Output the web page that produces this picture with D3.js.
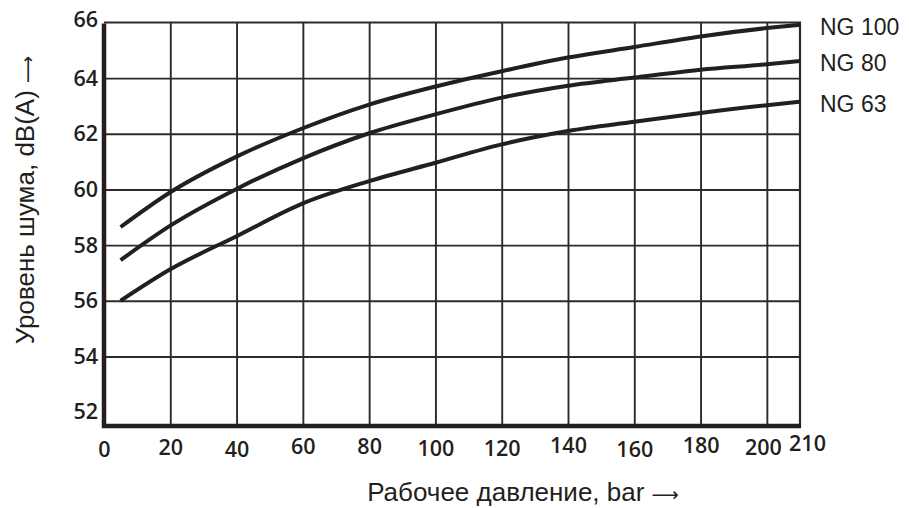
<!DOCTYPE html>
<html>
<head>
<meta charset="utf-8">
<script src="https://cdn.jsdelivr.net/npm/d3@7"></script>
<style>
	body { margin: 0; background: #fff; }
	.tick text { font-family: "Open Sans", sans-serif; font-weight: 600; font-size: 21.5px; fill: #231f20; }
	.label { font-family: "Liberation Sans", Arial, sans-serif; font-size: 26px; fill: #231f20; }
	.arrow { font-family: "DejaVu Sans", sans-serif; font-size: 19px; }
	.series-label { font-family: "Liberation Sans", Arial, sans-serif; font-size: 23px; fill: #231f20; }
</style>
</head>
<body>
<div id="vis"></div>
<script>

// Data: pressure in bar, noise level in dB(A)
var pressure = [5, 20, 40, 60, 80, 100, 120, 140, 160, 180, 200, 210];
var ng100 = [58.65, 59.9, 61.18, 62.2, 63.05, 63.7, 64.25, 64.74, 65.12, 65.5, 65.8, 65.92];
var ng80 = [57.46, 58.7, 60.02, 61.12, 62.02, 62.7, 63.3, 63.73, 64.02, 64.3, 64.5, 64.62];
var ng63 = [56.0, 57.13, 58.32, 59.5, 60.3, 60.96, 61.62, 62.1, 62.43, 62.75, 63.03, 63.15];
var seriesNames = ["NG 100", "NG 80", "NG 63"];

var xTicks = [0, 20, 40, 60, 80, 100, 120, 140, 160, 180, 200, 210];
var yTicks = [52, 54, 56, 58, 60, 62, 64, 66];

var xLabel = "Рабочее давление, bar ";
var yLabel = "Уровень шума, dB(A) ";
var arrow = "⟶";


function noiseChart(){
	// sizing, matched to the 909x508 picture
	var width = 909;
	var height = 508;
	var left = 104, right = 800, top = 22.5, bottom = 426;

	var x = d3.scaleLinear()
		.domain([0, 210])
		.range([left, right]);

	var y = d3.scaleLinear()
		.domain([51.5, 66])
		.range([bottom, top]);

	var svg = d3.select("#vis")
		.append("svg")
		.attr("width", width)
		.attr("height", height);

	//////////////////////////////  GRID  //////////////////////////////

	// vertical grid lines (every 20 bar)
	svg.append("g")
		.attr("transform", "translate(0," + bottom + ")")
		.call(d3.axisBottom(x).tickValues(xTicks.filter(function(d){ return d > 0 && d < 210; })).tickSize(-(bottom - top)).tickFormat(""))
		.call(function(g){
			g.select(".domain").remove();
			g.selectAll("line").attr("stroke", "#2b2b2b").attr("stroke-width", 1.9);
		});

	// horizontal grid lines (no line at 52)
	svg.append("g")
		.attr("transform", "translate(" + left + ",0)")
		.call(d3.axisLeft(y).tickValues(yTicks.filter(function(d){ return d > 52 && d < 66; })).tickSize(-(right - left)).tickFormat(""))
		.call(function(g){
			g.select(".domain").remove();
			g.selectAll("line").attr("stroke", "#2b2b2b").attr("stroke-width", 1.9);
		});

	// top and right border (thin)
	svg.append("path")
		.attr("d", "M" + left + "," + y(66) + "H" + x(210) + "V" + bottom)
		.attr("fill", "none")
		.attr("stroke", "#2b2b2b")
		.attr("stroke-width", 2.2);

	// thick left and bottom axis lines
	svg.append("path")
		.attr("d", "M" + left + "," + (y(66) + 1) + "V" + bottom + "H" + (x(210) + 1))
		.attr("fill", "none")
		.attr("stroke", "#231f20")
		.attr("stroke-width", 4.5);

	//////////////////////////////  TICK LABELS  //////////////////////////////

	// small jitter of the printed labels, as in the source
	var xTickDy = { 0: 2, 20: 0, 40: 2, 60: -1, 80: -1, 100: 1, 120: 1, 140: -2, 160: 2, 180: -2, 200: 0, 210: -4 };
	var xTickDx = { 200: -4, 210: 7 };

	svg.append("g")
		.attr("class", "x-axis")
		.attr("transform", "translate(0," + bottom + ")")
		.call(d3.axisBottom(x).tickValues(xTicks).tickSize(0).tickPadding(0).tickFormat(d3.format("d")))
		.call(function(g){
			g.select(".domain").remove();
			g.selectAll("text")
				.attr("y", function(d){ return 21 + (xTickDy[d] || 0); })
				.attr("dy", "0.35em")
				.attr("x", function(d){ return xTickDx[d] || 0; });
		})
		.attr("font-family", null)
		.attr("font-size", null);

	svg.append("g")
		.attr("class", "y-axis")
		.attr("transform", "translate(" + (left - 6) + ",0)")
		.call(d3.axisLeft(y).tickValues(yTicks).tickSize(0).tickPadding(0).tickFormat(d3.format("d")))
		.call(function(g){
			g.select(".domain").remove();
			g.selectAll("text")
				.attr("y", function(d){ return d === 66 ? -3 : 0; });
		})
		.attr("font-family", null)
		.attr("font-size", null);

	//////////////////////////////  CURVES  //////////////////////////////

	var series = [ng100, ng80, ng63];

	var line = d3.line()
		.x(function(d){ return x(d[0]); })
		.y(function(d){ return y(d[1]); })
		.curve(d3.curveMonotoneX);

	svg.selectAll("path.curve")
		.data(series)
		.enter().append("path")
		.classed("curve", true)
		.attr("d", function(values){
			return line(pressure.map(function(p, i){ return [p, values[i]]; }));
		})
		.attr("fill", "none")
		.attr("stroke", "#231f20")
		.attr("stroke-width", 4);

	// series names at the right end of each curve
	svg.selectAll("text.series-label")
		.data(series)
		.enter().append("text")
		.classed("series-label", true)
		.attr("x", x(210) + 20)
		.attr("y", function(values){ return y(values[values.length - 1]) + 2; })
		.attr("dy", "0.35em")
		.text(function(d, i){ return seriesNames[i]; });

	//////////////////////////////  AXIS TITLES  //////////////////////////////

	var xTitle = svg.append("text")
		.attr("class", "label")
		.attr("x", 523)
		.attr("y", 501)
		.attr("text-anchor", "middle")
		.text(xLabel);
	xTitle.append("tspan").attr("class", "arrow").text(arrow);

	var yTitle = svg.append("text")
		.attr("class", "label")
		.attr("transform", "translate(34,200) rotate(-90)")
		.attr("text-anchor", "middle")
		.text(yLabel);
	yTitle.append("tspan").attr("class", "arrow").text(arrow);
}

noiseChart();
</script>
</body>
</html>
